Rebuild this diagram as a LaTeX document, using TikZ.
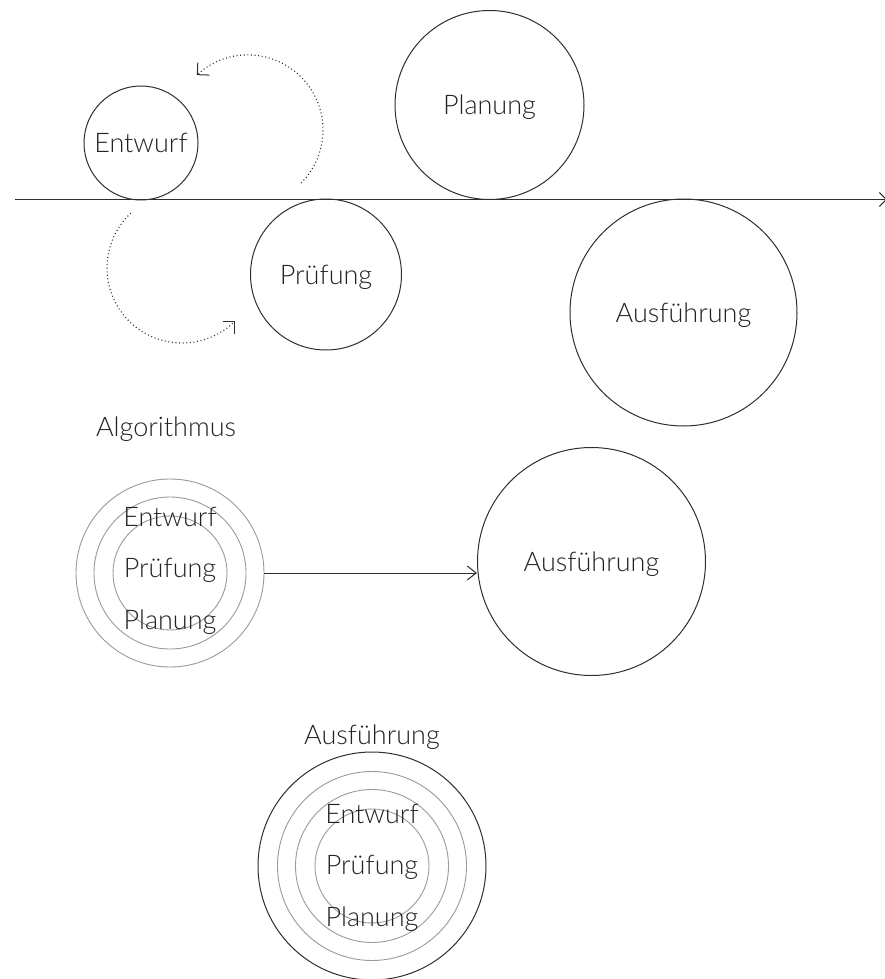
\documentclass[tikz,border=0pt]{standalone}
\usepackage{fontspec}
\IfFontExistsTF{Lato Light}{\setmainfont{Lato Light}}{\setmainfont{Lato}}
\usetikzlibrary{arrows.meta}
\definecolor{ink}{HTML}{2E2E2E}
\definecolor{txt}{HTML}{222222}
\definecolor{soft}{HTML}{9A9A9A}
\begin{document}
\begin{tikzpicture}[x=1pt,y=-1pt,
  every node/.style={font=\fontsize{27}{31}\selectfont, text=txt, inner sep=0pt, text depth=0pt},
  bub/.style={circle, draw=ink, line width=1pt, minimum size=#1},
  ring/.style={circle, draw=soft, line width=0.9pt, minimum size=#1},
  axisline/.style={draw=ink, line width=1.1pt, -{Straight Barb[length=7pt,width=14pt,line width=0.9pt]}},
  flow/.style={draw=ink, line width=1pt, -{Straight Barb[length=9pt,width=14pt,line width=1pt]}},
  loopline/.style={draw=ink, line width=1.1pt, dash pattern=on 1pt off 2.6pt,
     -{Straight Barb[length=8.5pt,width=17pt,line width=1pt]}}
]
\useasboundingbox (0,0) rectangle (884,979);

% top section
\coordinate (axL) at (15,199.5);
\coordinate (axR) at (887,199.5);
\draw[axisline] (axL) -- (axR);

\node[bub=114pt] (entwurf) at (141,143) {Entwurf};
\node[bub=189pt] (planung) at (489.5,105) {Planung};
\node[bub=151pt] (pruefung) at (326,274.5) {Prüfung};
\node[bub=227pt] (ausA) at (683.5,312.5) {Ausführung};

\coordinate (loopA) at (248,130);
\coordinate (loopB) at (182,268);
\draw[loopline] (loopA) ++(45:75) arc[start angle=45, end angle=-133, radius=75];
\draw[loopline] (loopB) ++(227:75) arc[start angle=227, end angle=45, radius=75];

% middle section
\node (algo) at (166,427) {Algorithmus};
\node[ring=188pt] (algoA) at (170,573) {};
\node[ring=152pt] (algoB) at (170,573) {};
\node[ring=114pt] (algoC) at (170,573) {};
\node (mE) at (170,517) {Entwurf};
\node (mP) at (170,568) {Prüfung};
\node (mL) at (170,620) {Planung};
\node[bub=228pt] (ausB) at (591.5,561.5) {Ausführung};
\draw[flow] (algoA.east) -- (algoA.east -| ausB.west);

% bottom section
\node (ausLabel) at (372,735) {Ausführung};
\node[bub=228pt] (bA) at (372,866) {};
\node[ring=189pt] (bB) at (372,866) {};
\node[ring=153pt] (bC) at (372,866) {};
\node[ring=114pt] (bD) at (372,866) {};
\node (bE) at (372,813.5) {Entwurf};
\node (bP) at (372,865) {Prüfung};
\node (bL) at (372,916.5) {Planung};
\end{tikzpicture}
\end{document}
